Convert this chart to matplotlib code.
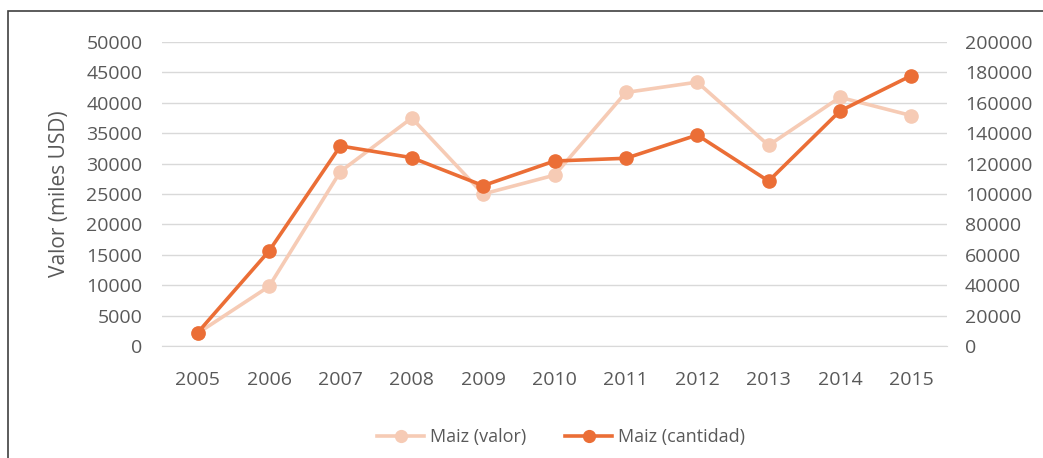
import matplotlib
matplotlib.use("Agg")
import matplotlib.pyplot as plt
from matplotlib.lines import Line2D
from matplotlib.patches import Rectangle

years = ["2005", "2006", "2007", "2008", "2009", "2010", "2011", "2012", "2013", "2014", "2015"]
valor = [2100, 9800, 28700, 37500, 25000, 28100, 41700, 43400, 33000, 40900, 37900]
cantidad = [8800, 62500, 131600, 123900, 105500, 121700, 123500, 138800, 108500, 154600, 177900]
left_ticks = list(range(0, 50001, 5000))
right_ticks = list(range(0, 200001, 20000))

plt.rcParams['font.family'] = ['Open Sans', 'DejaVu Sans']
TXT = '#595959'
LIGHT = '#F6CBB5'
DARK = '#EB6E36'

fig = plt.figure(figsize=(10.43, 4.58), dpi=100)
fig.patches.append(Rectangle((8/1043, -0.1), 1.2, 1 - 11/458 + 0.1, transform=fig.transFigure,
                             fill=False, edgecolor='#404040', linewidth=1.2))
ax = fig.add_axes([162/1043, 1 - 346/458, (947 - 162)/1043, (346 - 42)/458])
ax2 = ax.twinx()

x = list(range(len(years)))
ax.plot(x, valor, color=LIGHT, lw=2.6, marker='o', ms=9.5, zorder=3, solid_capstyle='round')
ax2.plot(x, cantidad, color=DARK, lw=2.6, marker='o', ms=9.5, zorder=4, solid_capstyle='round')

ax.set_xlim(-0.5, len(years) - 0.5)
ax.set_ylim(0, 50000)
ax2.set_ylim(0, 200000)
ax.set_yticks(left_ticks)
ax.set_yticklabels([str(v) for v in left_ticks])
ax2.set_yticks(right_ticks)
ax2.set_yticklabels([str(v) for v in right_ticks])
ax.set_xticks(x)
ax.set_xticklabels(years)

ax.grid(axis='y', color='#D9D9D9', lw=1.0)
ax.set_axisbelow(True)
for a in (ax, ax2):
    for s in a.spines.values():
        s.set_visible(False)
    a.tick_params(length=0, labelsize=14, labelcolor=TXT)
ax.spines['bottom'].set_visible(True)
ax.spines['bottom'].set_color('#D9D9D9')
ax.tick_params(axis='y', pad=14)
ax.tick_params(axis='x', pad=18)
ax2.tick_params(axis='y', pad=13)
ax.set_zorder(ax2.get_zorder() - 1)
ax.patch.set_visible(True)
ax2.patch.set_visible(False)

fig.text(60/1043, 1 - 194/458, 'Valor (miles USD)', rotation=90, ha='center', va='center',
         fontsize=15, color=TXT)

handles = [Line2D([], [], color=LIGHT, lw=2.6, marker='o', ms=8.5),
           Line2D([], [], color=DARK, lw=2.6, marker='o', ms=8.5)]
fig.legend(handles, ['Maiz (valor)', 'Maiz (cantidad)'], loc='center',
           bbox_to_anchor=(561/1043, 1 - 437/458), ncol=2, frameon=False,
           fontsize=13, labelcolor=TXT, handlelength=2.6, handletextpad=0.3,
           columnspacing=2.2)

fig.savefig('out.png', dpi=100)
